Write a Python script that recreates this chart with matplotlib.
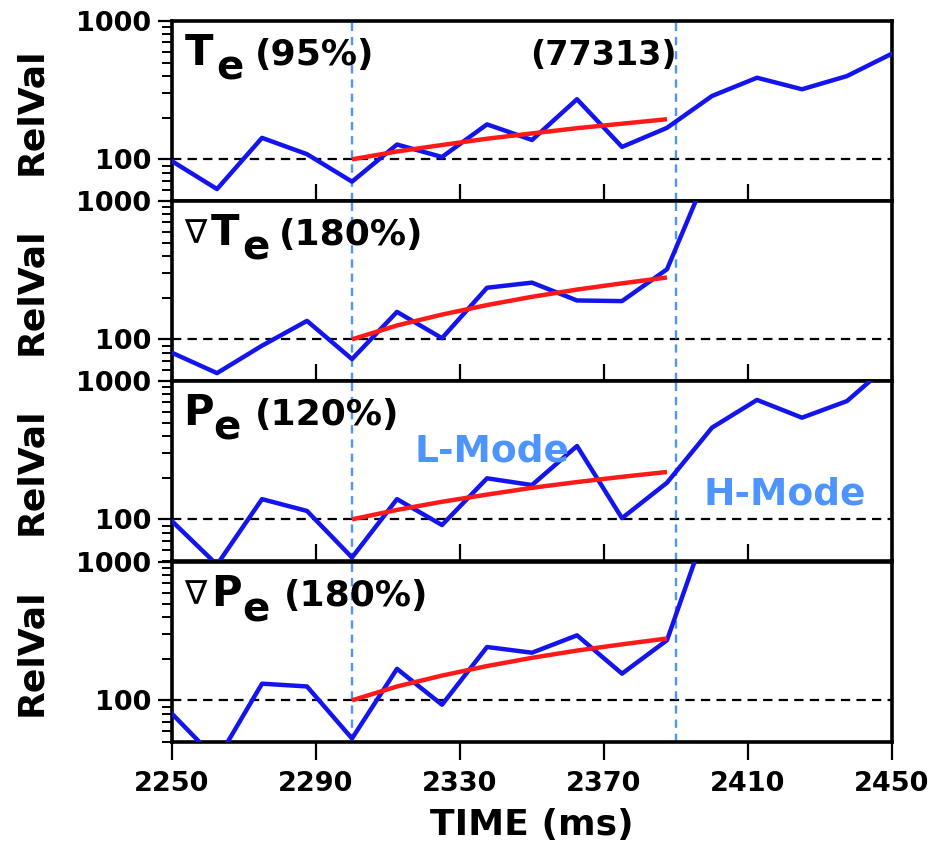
import numpy as np
import matplotlib
matplotlib.use("Agg")
import matplotlib.pyplot as plt
from matplotlib.ticker import LogLocator, NullFormatter, FixedLocator, FixedFormatter

plt.rcParams['font.family'] = ['DejaVu Sans']
plt.rcParams['font.weight'] = 'bold'

# ---------------- data ----------------
time = [2250, 2262.5, 2275, 2287.5, 2300, 2312.5, 2325, 2337.5, 2350,
        2362.5, 2375, 2387.5, 2400, 2412.5, 2425, 2437.5, 2450]

te = [97, 61, 143, 109, 69, 128, 104, 179, 138, 272, 123, 169, 287, 389, 321, 400, 581]
grad_te = [80, 57, 90, 136, 72, 158, 102, 236, 257, 191, 189, 321, 1900]
pe = [97, 47, 140, 115, 53, 140, 91, 198, 177, 339, 102, 184, 460, 730, 543, 716, 1375]
grad_pe = [80, 37, 132, 126, 53, 169, 93, 243, 221, 295, 156, 272, 2300]

fit_time = [2300, 2312.5, 2325, 2337.5, 2350, 2362.5, 2375, 2387.5]
fit_te = [100, 114, 127, 141, 154, 168, 181, 195]
fit_grad_te = [100, 126, 151, 177, 203, 229, 254, 280]
fit_pe = [100, 117, 134, 151, 169, 186, 203, 220]
fit_grad_pe = [100, 126, 151, 177, 203, 229, 254, 280]

symbols = ["T", "T", "P", "P"]
nabla = [False, True, False, True]
percents = ["(95%)", "(180%)", "(120%)", "(180%)"]
shot = "(77313)"
transition_times = [2300, 2390]
ref_level = 100
xticks = [2250, 2290, 2330, 2370, 2410, 2450]
yticks = [100, 1000]
ytick_labels = ["100", "1000"]
xlabel = "TIME (ms)"
ylabel = "RelVal"

series = [te, grad_te, pe, grad_pe]
fits = [fit_te, fit_grad_te, fit_pe, fit_grad_pe]

# ---------------- layout ----------------
W, H = 930, 851
fig = plt.figure(figsize=(W / 100, H / 100), dpi=100)
left_px, width_px, h_px = 172, 720, 180
tops = [21, 201, 381, 562]

BLUE = '#1414ee'
RED = '#ff1a1a'
LBLUE = '#4d94ff'

def fx(px):
    return (px - left_px) / width_px

def fy(dy):
    return 1 - dy / h_px

# label layout (pixels relative to panel)
lab_pos = [
    dict(nab=None, main=185, sub=216, pct=255),
    dict(nab=184, main=211, sub=242, pct=279),
    dict(nab=None, main=183, sub=213, pct=255),
    dict(nab=184, main=211, sub=242, pct=284),
]

axes = []
for i in range(4):
    b = 1 - (tops[i] + h_px) / H
    ax = fig.add_axes([left_px / W, b, width_px / W, h_px / H])
    axes.append(ax)
    ax.set_yscale('log')
    ax.set_xlim(2250, 2450)
    ax.set_ylim(50, 1000)

    t = time[:len(series[i])]
    ax.axhline(ref_level, color='black', lw=1.6, dashes=(4.2, 2.8), zorder=1)
    for tt in transition_times:
        ax.axvline(tt, color=LBLUE, lw=1.7, dashes=(3.5, 2.5), zorder=1)
    ax.plot(t, series[i], color=BLUE, lw=3.2, solid_joinstyle='round', zorder=3)
    ax.plot(fit_time, fits[i], color=RED, lw=3.2, solid_capstyle='butt', zorder=4)

    for s in ax.spines.values():
        s.set_linewidth(2.6)

    ax.yaxis.set_major_locator(FixedLocator(yticks))
    ax.yaxis.set_major_formatter(FixedFormatter(ytick_labels))
    ax.yaxis.set_minor_locator(LogLocator(base=10, subs=np.arange(2, 10)))
    ax.yaxis.set_minor_formatter(NullFormatter())
    ax.tick_params(axis='y', which='major', direction='out', length=10, width=1.6,
                   labelsize=19.5, pad=5, right=False)
    ax.tick_params(axis='y', which='minor', direction='out', length=7, width=1.4, right=False)
    for lab in ax.get_yticklabels():
        lab.set_fontweight('bold')

    ax.set_xticks(xticks)
    if i < 3:
        ax.tick_params(axis='x', which='major', direction='in', length=12, width=1.6,
                       labelbottom=False, top=False)
    else:
        ax.tick_params(axis='x', which='major', direction='out', length=13, width=1.6,
                       labelsize=19.5, pad=8, top=False)
        ax.set_xlabel(xlabel, fontsize=26, fontweight='bold', labelpad=8)
    ax.tick_params(axis='x', which='minor', bottom=False, top=False)

    ax.set_ylabel(ylabel, fontsize=26, fontweight='bold')
    ax.yaxis.set_label_coords(fx(48), 0.5)

    lp = lab_pos[i]
    tr = ax.transAxes
    if nabla[i]:
        ax.text(fx(lp['nab']), fy(42), "\u2207", transform=tr, fontsize=24,
                fontweight='normal', ha='left', va='baseline', zorder=5)
    ax.text(fx(lp['main']), fy(44), symbols[i], transform=tr, fontsize=30,
            fontweight='bold', ha='left', va='baseline', zorder=5)
    ax.text(fx(lp['sub']), fy(59), "e", transform=tr, fontsize=29,
            fontweight='bold', ha='left', va='baseline', zorder=5)
    ax.text(fx(lp['pct']), fy(44), percents[i], transform=tr, fontsize=26,
            fontweight='bold', ha='left', va='baseline', zorder=5)

axes[0].text(fx(530), fy(44), shot, transform=axes[0].transAxes, fontsize=24,
             fontweight='bold', ha='left', va='baseline', zorder=5)
axes[2].text(fx(414), fy(81), "L-Mode", transform=axes[2].transAxes, fontsize=27,
             fontweight='bold', color=LBLUE, ha='left', va='baseline', zorder=5)
axes[2].text(fx(703), fy(124), "H-Mode", transform=axes[2].transAxes, fontsize=27,
             fontweight='bold', color=LBLUE, ha='left', va='baseline', zorder=5)

fig.savefig("out.png", dpi=100, facecolor='white')
